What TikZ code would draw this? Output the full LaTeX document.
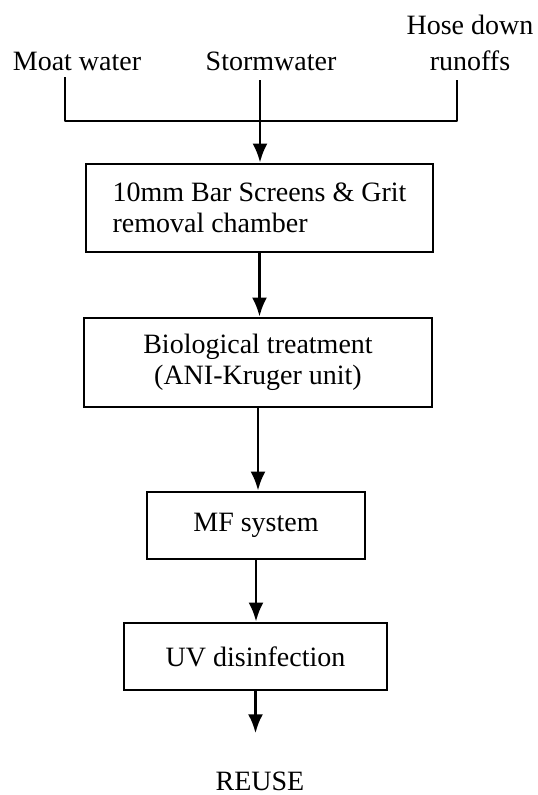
\documentclass[tikz,border=0pt]{standalone}
\usepackage{fontspec}
\setmainfont{Liberation Serif}
\usetikzlibrary{positioning,arrows.meta}

\begin{document}
\begin{tikzpicture}[
    x=1pt, y=-1pt,
    process/.style={rectangle, draw, line width=2.8pt, inner sep=0pt, align=center, font=\fontsize{28}{31}\selectfont},
    source/.style={inner sep=0pt, align=center, font=\fontsize{28}{36}\selectfont},
    flow/.style={draw, line width=2.8pt, -{Latex[length=19pt,width=15pt]}},
    pipe/.style={draw, line width=2.8pt, line join=round}
]
\useasboundingbox (0,0) rectangle (538,795);

% Define node positions
\node[source, anchor=base] (moat) at (77,70) {Moat water};
\node[source, anchor=base] (storm) at (271,70) {Stormwater};
\node[source, anchor=south] (hose) at (470,71) {Hose down\\runoffs};

\node[process, minimum width=347pt, minimum height=88pt, align=left] (screen) at (259.5,208) {10mm Bar Screens \& Grit\\removal chamber};
\node[process, minimum width=348pt, minimum height=89pt] (bio) at (258,362.5) {Biological treatment\\(ANI-Kruger unit)};
\node[process, minimum width=218pt, minimum height=67pt] (mf) at (256,525.5) {MF system};
\node[process, minimum width=263pt, minimum height=67pt] (uv) at (255.5,656.5) {UV disinfection};

\node[source, anchor=base] (reuse) at (260,790) {REUSE};

% Pipe ends below the sources
\coordinate (moattail) at (65,77);
\coordinate (stormtail) at (260,80);
\coordinate (hosetail) at (457,80);
\coordinate (join) at (260,121);

% Draw the flow
\draw[pipe] (moattail) |- (join) -| (hosetail);
\draw[flow] (stormtail) -- (screen.north -| stormtail);
\draw[flow] (screen.south) -- (screen.south |- bio.north);
\draw[flow] (bio.south) -- (bio.south |- mf.north);
\draw[flow] (mf.south) -- (mf.south |- uv.north);
\draw[flow, shorten >=38pt] (uv.south) -- (uv.south |- reuse.north);

\end{tikzpicture}
\end{document}
